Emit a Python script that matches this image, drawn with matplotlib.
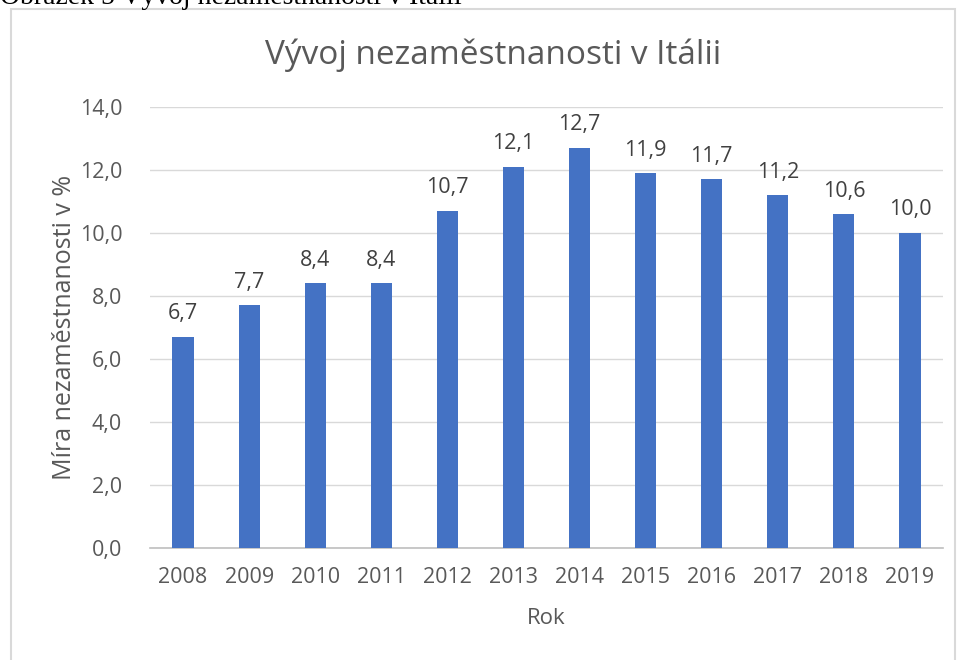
import matplotlib.pyplot as plt
from matplotlib.patches import Rectangle

years = ["2008", "2009", "2010", "2011", "2012", "2013",
         "2014", "2015", "2016", "2017", "2018", "2019"]
unemployment = [6.7, 7.7, 8.4, 8.4, 10.7, 12.1, 12.7, 11.9, 11.7, 11.2, 10.6, 10.0]
y_ticks = [0, 2, 4, 6, 8, 10, 12, 14]

plt.rcParams["font.family"] = ["Open Sans", "DejaVu Sans"]

fig = plt.figure(figsize=(9.59, 6.6), dpi=100)

# chart frame + cut-off caption above it
fig.patches.append(Rectangle((11 / 959, -0.05), 944 / 959, 1.05 - 9 / 660,
                             transform=fig.transFigure, fill=False,
                             edgecolor="#d9d9d9", linewidth=1.5))
fig.text(0.0, 1 - 3.5 / 660, "Obrázek 5 Vývoj nezaměstnanosti v Itálii",
         family="Liberation Serif", fontsize=20, color="black", va="baseline")

ax = fig.add_axes([150 / 959, 112 / 660, 793 / 959, 441 / 660])
x = range(len(years))
ax.bar(x, unemployment, width=0.32, color="#4472c4", zorder=3)

for xi, v in zip(x, unemployment):
    ax.text(xi, v + 0.4, f"{v:.1f}".replace(".", ","), ha="center", va="bottom",
            fontsize=15.5, color="#404040")

ax.set_xlim(-0.5, len(years) - 0.5)
ax.set_ylim(0, 14)
ax.set_yticks(y_ticks)
ax.set_yticklabels([f"{t:.1f}".replace(".", ",") for t in y_ticks])
ax.set_xticks(list(x))
ax.set_xticklabels(years)
ax.tick_params(length=0, labelsize=15.5, colors="#595959")
ax.tick_params(axis="x", pad=14)
ax.tick_params(axis="y", pad=20)
ax.grid(axis="y", color="#d9d9d9", linewidth=1, zorder=0)
for s in ["top", "right", "left"]:
    ax.spines[s].set_visible(False)
ax.spines["bottom"].set_color("#bfbfbf")
ax.spines["bottom"].set_linewidth(1.2)

fig.text(493 / 959, 1 - 55 / 660, "Vývoj nezaměstnanosti v Itálii", ha="center",
         va="center", fontsize=24, color="#595959")
ax.set_xlabel("Rok", fontsize=16, color="#595959", labelpad=14)
ax.set_ylabel("Míra nezaměstnanosti v %", fontsize=18, color="#595959", labelpad=2)

fig.savefig("out.png", dpi=100)
